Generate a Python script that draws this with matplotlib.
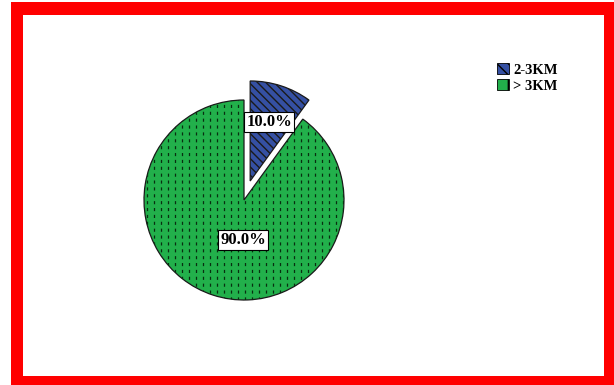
import numpy as np
import matplotlib
matplotlib.use('Agg')
import matplotlib.pyplot as plt
from matplotlib.patches import Rectangle, Patch

# distance categories and their share of respondents (%)
categories = ['2-3KM', '> 3KM']
shares = [10.0, 90.0]
colors = ['#3550a3', '#22b04b']

plt.rcParams['font.family'] = ['Liberation Serif', 'DejaVu Serif']
plt.rcParams['font.weight'] = 'bold'

W, H = 614, 385
fig = plt.figure(figsize=(W / 100, H / 100), dpi=100)

# red frame around the white chart area
fig.patches.append(Rectangle((11 / W, 0), 1 - 11 / W, 1 - 2 / H,
                             transform=fig.transFigure, fc='#ff0000', ec='none', zorder=-2))
fig.patches.append(Rectangle((23 / W, 9 / H), (604 - 23) / W, (376 - 15) / H,
                             transform=fig.transFigure, fc='white', ec='none', zorder=-1))

ax = fig.add_axes([0, 0, 1, 1])
ax.set_zorder(1)
ax.patch.set_visible(False)

cx, cy, r = 244, 185, 100
wedges, texts, autotexts = ax.pie(
    shares, colors=colors, startangle=90, counterclock=False,
    explode=[20, 0], center=(cx, cy), radius=r, frame=True,
    autopct='%1.1f%%', pctdistance=0.62,
    wedgeprops=dict(edgecolor='#1a1a1a', linewidth=0.9),
    textprops=dict(fontsize=12, fontweight='bold'))
ax.set_xlim(0, W)
ax.set_ylim(0, H)
ax.axis('off')

wedges[0].set_hatch('\\\\\\\\')

# dashed vertical texture inside the green slice
xs = np.arange(cx - r + 3, cx + r, 7)
dash = ax.vlines(xs, cy - r, cy + r, colors='#082e10', linewidth=0.9,
                 linestyles=[(0, (2.5, 3.0))], zorder=wedges[1].get_zorder() + 0.1)
dash.set_clip_path(wedges[1])

for t in autotexts:
    t.set_bbox(dict(boxstyle='square,pad=0.12', fc='white', ec='black', lw=0.8))
    t.set_zorder(5)
autotexts[1].set_position((cx - 1, cy - 40))

handles = [Patch(facecolor=colors[0], edgecolor='black', hatch='\\\\\\', lw=0.6),
           Patch(facecolor=colors[1], edgecolor='black', hatch='|', lw=0.6)]
fig.legend(handles, categories, loc='upper left', bbox_to_anchor=(487 / W, 1 - 53 / H),
           frameon=False, fontsize=10.5, handlelength=0.8, handleheight=0.8,
           handletextpad=0.3, labelspacing=0.15, borderpad=0.2)

fig.savefig('out.png', dpi=100)
